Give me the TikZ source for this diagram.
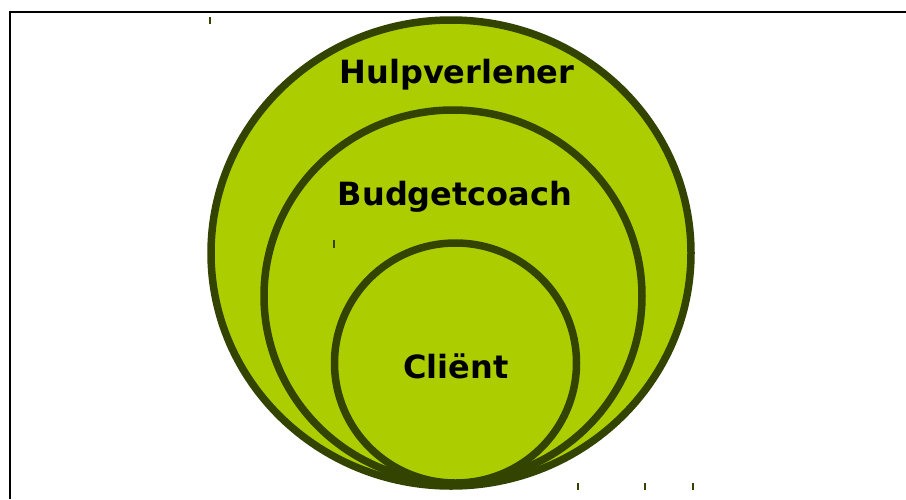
\documentclass[tikz,border=0pt]{standalone}
\usepackage{fontspec}
\setmainfont{DejaVu Sans}
\definecolor{fillgreen}{RGB}{172,206,0}
\definecolor{darkolive}{RGB}{51,68,0}
\tikzset{
  ring/.style={draw=darkolive, fill=fillgreen, line width=7.5pt},
  label/.style={font=\bfseries\fontsize{32}{38}\selectfont, text=black, inner sep=0pt},
  tick/.style={draw=darkolive, line width=1.2pt}
}
\begin{document}
\begin{tikzpicture}[x=1pt,y=-1pt]
\useasboundingbox (0,0) rectangle (906,499);
\draw[line width=2pt, black] (9.5,499) -- (9.5,11.5) -- (906,11.5);
\draw[ring] (451,253) ellipse [x radius=240, y radius=233];
\draw[ring] (453,296) ellipse [x radius=189, y radius=186];
\draw[ring] (455.5,363) ellipse [x radius=121, y radius=120];
\node[label] (hulp) at (457,75) {Hulpverlener};
\node[label] (budget) at (455,197) {Budgetcoach};
\node[label] (client) at (456,366) {Cliënt};
\coordinate (t1) at (210,17); \coordinate (t1b) at (210,24);
\coordinate (t2) at (334,240); \coordinate (t2b) at (334,248);
\coordinate (t3) at (578,483); \coordinate (t3b) at (578,490);
\coordinate (t4) at (645,483); \coordinate (t4b) at (645,490);
\coordinate (t5) at (693,483); \coordinate (t5b) at (693,490);
\draw[tick] (t1) -- (t1b);
\draw[tick] (t2) -- (t2b);
\draw[tick] (t3) -- (t3b);
\draw[tick] (t4) -- (t4b);
\draw[tick] (t5) -- (t5b);
\end{tikzpicture}
\end{document}
